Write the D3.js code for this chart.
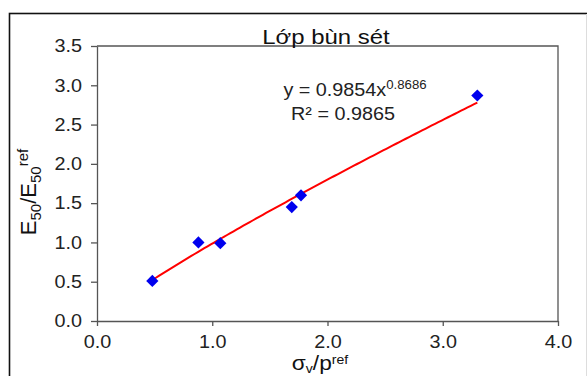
<!DOCTYPE html>
<html><head><meta charset="utf-8">
<script src="https://cdn.jsdelivr.net/npm/d3@7/dist/d3.min.js"></script>
<style>body{margin:0;background:#fff}svg{display:block;font-family:"Liberation Sans",Arial,sans-serif}</style>
</head><body>
<svg id="c" width="587" height="376"></svg>
<script>
const title = "Lớp bùn sét";
const xValues = [0.48, 0.88, 1.07, 1.69, 1.77, 3.30];
const yValues = [0.51, 1.00, 0.99, 1.45, 1.60, 2.87];
const xTicks = [0, 1, 2, 3, 4];
const yTicks = [0, 0.5, 1, 1.5, 2, 2.5, 3, 3.5];
const fitCoef = 0.9854, fitExp = 0.8686, fitR2 = "0.9865";

const svg = d3.select("#c");
const L = 97, R = 558, T = 46, B = 321;
const SX = 1.1;
const x = d3.scaleLinear().domain([0, 4]).range([L, R]);
const y = d3.scaleLinear().domain([0, 3.5]).range([B, T]);

// outer border
svg.append("rect").attr("x", 9.5).attr("y", 13.5).attr("width", 600).attr("height", 400)
  .attr("fill", "none").attr("stroke", "#111").attr("stroke-width", 1.6);
svg.append("line").attr("x1", 586.5).attr("x2", 586.5).attr("y1", 14).attr("y2", 376)
  .attr("stroke", "#ddd");

// plot frame top/right
svg.append("path").attr("d", `M${L},${T}H${R}V${B}`).attr("fill", "none")
  .attr("stroke", "#555").attr("stroke-width", 1.3);

const gx = svg.append("g").attr("transform", `translate(0,${B})`)
  .call(d3.axisBottom(x).tickValues(xTicks).tickFormat(d3.format(".1f")).tickSizeInner(5).tickSizeOuter(0).tickPadding(9));
const gy = svg.append("g").attr("transform", `translate(${L},0)`)
  .call(d3.axisLeft(y).tickValues(yTicks).tickFormat(d3.format(".1f")).tickSizeInner(6).tickSizeOuter(0).tickPadding(9));
[gx, gy].forEach(g => {
  g.select(".domain").attr("stroke", "#555").attr("stroke-width", 1.3);
  g.selectAll(".tick line").attr("stroke", "#555").attr("stroke-width", 1.3);
  g.selectAll(".tick text").attr("fill", "#222").style("font-size", "18px")
    .style("font-family", "Liberation Sans, Arial, sans-serif");
});
gy.selectAll(".tick text").attr("x", -15 / SX).attr("transform", `scale(${SX},1)`);
gx.selectAll(".tick text").attr("transform", `scale(${SX},1)`);

// trendline
const xs = d3.range(0, 101).map(i => xValues[0] + (xValues[5] - xValues[0]) * i / 100);
svg.append("path").datum(xs)
  .attr("d", d3.line().x(d => x(d)).y(d => y(fitCoef * Math.pow(d, fitExp))))
  .attr("fill", "none").attr("stroke", "#ff0000").attr("stroke-width", 2);

// points
svg.append("g").selectAll("path").data(xValues.map((d, i) => [d, yValues[i]])).join("path")
  .attr("transform", d => `translate(${x(d[0])},${y(d[1])})`)
  .attr("d", d3.symbol().type(d3.symbolDiamond2).size(95))
  .attr("fill", "#0000ee");

// title
svg.append("text").attr("transform", `translate(326,44) scale(1.14,1)`).attr("text-anchor", "middle")
  .attr("fill", "#111").style("font-size", "21px").text(title);

// equation
const eq = svg.append("text").attr("transform", `translate(355,96) scale(${SX},1)`).attr("text-anchor", "middle")
  .attr("fill", "#222").style("font-size", "18px");
eq.append("tspan").text(`y = ${fitCoef}x`);
eq.append("tspan").attr("dy", -7).style("font-size", "12px").text(fitExp);
svg.append("text").attr("transform", `translate(343,120) scale(${SX},1)`).attr("text-anchor", "middle")
  .attr("fill", "#222").style("font-size", "18px").text(`R² = ${fitR2}`);

// x label
const xl = svg.append("text").attr("transform", `translate(320,370) scale(1.08,1)`).attr("text-anchor", "middle")
  .attr("fill", "#111").style("font-size", "21px");
xl.append("tspan").text("σ");
xl.append("tspan").attr("dy", 3).style("font-size", "13px").text("v");
xl.append("tspan").attr("dy", -3).text("/p");
xl.append("tspan").attr("dy", -6).style("font-size", "13px").text("ref");

// y label
const yl = svg.append("text").attr("transform", "translate(36,192) rotate(-90)")
  .attr("text-anchor", "middle").attr("fill", "#111").style("font-size", "22px");
yl.append("tspan").text("E");
yl.append("tspan").attr("dy", 5).style("font-size", "15px").text("50");
yl.append("tspan").attr("dy", -5).text("/E");
yl.append("tspan").attr("dy", 5).style("font-size", "15px").text("50");
yl.append("tspan").attr("dy", -13).style("font-size", "15px").text("ref");
</script>
</body></html>
